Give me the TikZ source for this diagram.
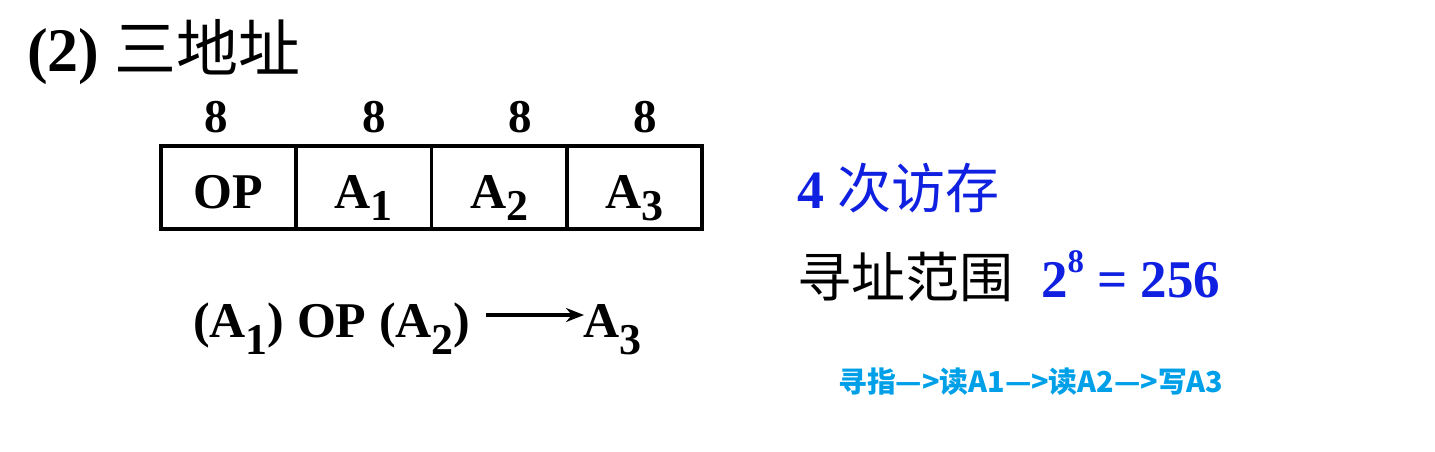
\documentclass[tikz,border=0pt]{standalone}
\usepackage{fontspec}
\setmainfont{Liberation Serif}
\newfontfamily\cjk{Noto Sans CJK SC}
\usetikzlibrary{arrows.meta,calc}
\definecolor{deepblue}{RGB}{16,32,224}
\definecolor{skyblue}{RGB}{0,160,233}
\newcommand\subx[1]{\raisebox{-0.25em}{\scalebox{0.88}{#1}}}
\newcommand\subf[1]{\raisebox{-0.34em}{\scalebox{0.88}{#1}}}
\newcommand\supx[1]{\raisebox{0.47em}{\scalebox{0.62}{#1}}}
\tikzset{
  txt/.style={inner sep=0pt, anchor=base west},
  bignum/.style={inner sep=0pt, anchor=base, font=\fontsize{47}{52}\selectfont\bfseries},
  cell/.style={draw, line width=3.8pt, minimum width=135.25pt, minimum height=83pt,
    inner sep=0pt, text height=46pt, text depth=5pt, font=\fontsize{50}{56}\selectfont\bfseries},
}
\begin{document}
\begin{tikzpicture}[x=1pt,y=-1pt]
\useasboundingbox (0,0) rectangle (1435,451);
% title
\node[txt, font=\fontsize{62}{68}\selectfont\bfseries] (title) at (27,71) {(2) {\cjk\mdseries 三地址}};
% bit widths
\node[bignum] (w1) at (216,132) {8};
\node[bignum] (w2) at (374,132) {8};
\node[bignum] (w3) at (520,132) {8};
\node[bignum] (w4) at (645,132) {8};
% instruction format
\node[cell] (op) at (228.6,187.5) {OP};
\node[cell] (a1) at (363.9,187.5) {A\subx{1}};
\node[cell] (a2) at (499.1,187.5) {A\subx{2}};
\node[cell] (a3) at (634.4,187.5) {A\subx{3}};
% operation
\node[txt, font=\fontsize{50}{56}\selectfont\bfseries] (lhs) at (193,337) {(A\subf{1}) OP (A\subf{2})};
\node[txt, font=\fontsize{50}{56}\selectfont\bfseries] (rhs) at (583,337) {A\subf{3}};
\draw[line width=3.4pt, -{Stealth[length=18pt,width=14pt]}]
  ($(lhs.base east)+(15,-22)$) -- ($(rhs.base west)+(1,-22)$);
% right side
\node[txt, text=deepblue, font=\fontsize{54}{60}\selectfont\bfseries] (acc) at (797,208) {4 {\cjk\mdseries 次访存}};
\node[txt, font=\fontsize{54}{60}\selectfont\cjk] (range) at (797,297) {寻址范围};
\node[txt, text=deepblue, font=\fontsize{53}{58}\selectfont\bfseries] (val) at (1041,297) {2\supx{8} = 256};
\node[txt, text=skyblue, font=\fontsize{28.8}{32}\selectfont\cjk\bfseries] (seq) at (838,392) {寻指—>读A1—>读A2—>写A3};
\end{tikzpicture}
\end{document}
